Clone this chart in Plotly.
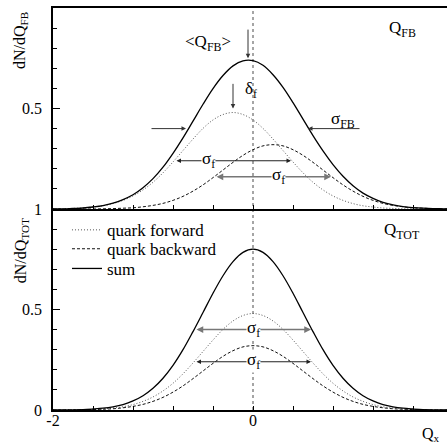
import numpy as np
import plotly.graph_objects as go

# Abscissa grid for the charge distributions
q_x = np.round(np.arange(-20, 21) / 10.0, 1)

# Q_FB panel: forward / backward quark hemispheres and their sum
fb_forward = [0.001, 0.001, 0.003, 0.005, 0.010, 0.016, 0.027, 0.043, 0.065, 0.095,
              0.133, 0.180, 0.234, 0.291, 0.348, 0.401, 0.443, 0.470, 0.480, 0.470,
              0.443, 0.401, 0.348, 0.291, 0.234, 0.180, 0.133, 0.095, 0.065, 0.043,
              0.027, 0.016, 0.010, 0.005, 0.003, 0.001, 0.001, 0.000, 0.000, 0.000, 0.000]
fb_backward = [0.000, 0.000, 0.000, 0.000, 0.000, 0.001, 0.002, 0.004, 0.006, 0.011,
               0.018, 0.028, 0.043, 0.063, 0.089, 0.120, 0.156, 0.194, 0.232, 0.267,
               0.295, 0.314, 0.320, 0.314, 0.295, 0.267, 0.232, 0.194, 0.156, 0.120,
               0.089, 0.063, 0.043, 0.028, 0.018, 0.011, 0.006, 0.004, 0.002, 0.001, 0.000]
fb_sum = [0.001, 0.001, 0.003, 0.005, 0.010, 0.017, 0.029, 0.047, 0.071, 0.106,
          0.151, 0.208, 0.277, 0.354, 0.437, 0.521, 0.599, 0.664, 0.712, 0.737,
          0.738, 0.715, 0.668, 0.605, 0.529, 0.447, 0.365, 0.289, 0.221, 0.163,
          0.116, 0.079, 0.053, 0.033, 0.021, 0.012, 0.007, 0.004, 0.002, 0.001, 0.000]

# Q_TOT panel
tot_forward = [0.000, 0.000, 0.001, 0.001, 0.003, 0.005, 0.010, 0.016, 0.027, 0.043,
               0.065, 0.095, 0.133, 0.180, 0.234, 0.291, 0.348, 0.401, 0.443, 0.470,
               0.480,
               0.470, 0.443, 0.401, 0.348, 0.291, 0.234, 0.180, 0.133, 0.095, 0.065,
               0.043, 0.027, 0.016, 0.010, 0.005, 0.003, 0.001, 0.001, 0.000, 0.000]
tot_backward = [0.000, 0.000, 0.000, 0.001, 0.002, 0.004, 0.006, 0.011, 0.018, 0.028,
                0.043, 0.063, 0.089, 0.120, 0.156, 0.194, 0.232, 0.267, 0.295, 0.314,
                0.320,
                0.314, 0.295, 0.267, 0.232, 0.194, 0.156, 0.120, 0.089, 0.063, 0.043,
                0.028, 0.018, 0.011, 0.006, 0.004, 0.002, 0.001, 0.000, 0.000, 0.000]
tot_sum = [0.000, 0.001, 0.001, 0.002, 0.005, 0.009, 0.016, 0.027, 0.045, 0.071,
           0.108, 0.158, 0.222, 0.300, 0.390, 0.485, 0.581, 0.668, 0.738, 0.784,
           0.800,
           0.784, 0.738, 0.668, 0.581, 0.485, 0.390, 0.300, 0.222, 0.158, 0.108,
           0.071, 0.045, 0.027, 0.016, 0.009, 0.005, 0.002, 0.001, 0.001, 0.000]

series_names = ["quark forward", "quark backward", "sum"]
x_tickvals = [-2, 0, 2]
x_ticktext = ["-2", "0", "2"]

FONT = "Liberation Serif, Times New Roman, serif"
LBL = 17   # annotation / legend text size
TCK = 16   # tick label and axis title size

styles = [dict(color="#555555", width=1, dash="1px,2px"),
          dict(color="#111111", width=1, dash="3px,2px"),
          dict(color="#000000", width=1.3, dash="solid")]

fig = go.Figure()
for name, ys, st in zip(series_names, [fb_forward, fb_backward, fb_sum], styles):
    fig.add_trace(go.Scatter(x=q_x, y=ys, mode="lines", line=dict(shape="spline", **st),
                             name=name, showlegend=False, xaxis="x2", yaxis="y2",
                             hoverinfo="skip"))
legend_ids = ["legend", "legend2", "legend3"]
for name, ys, st, lg in zip(series_names, [tot_forward, tot_backward, tot_sum], styles,
                            legend_ids):
    fig.add_trace(go.Scatter(x=q_x, y=ys, mode="lines", line=dict(shape="spline", **st),
                             name=name, showlegend=True, legend=lg, xaxis="x", yaxis="y",
                             hoverinfo="skip"))

axis_common = dict(showgrid=False, zeroline=False, showline=True, linecolor="black",
                   linewidth=1.5, ticks="inside", tickcolor="black",
                   tickfont=dict(family=FONT, size=TCK, color="black"))
xaxis_common = dict(axis_common, range=[-2, 1.94], tickmode="array", tickvals=x_tickvals,
                    ticktext=x_ticktext, ticklen=4, ticklabelstandoff=-5,
                    minor=dict(tickmode="linear", tick0=-2, dtick=0.4, ticks="inside",
                               ticklen=4, tickcolor="black"))
yaxis_common = dict(axis_common, range=[0, 1], ticklen=7, ticklabelstandoff=6,
                    minor=dict(tickmode="linear", tick0=0, dtick=0.1, ticks="inside",
                               ticklen=4, tickcolor="black"))

legend_rows = [0.447, 0.400, 0.351]
legend_common = dict(x=0.0355, xanchor="left", yanchor="middle", bgcolor="rgba(0,0,0,0)",
                     font=dict(family=FONT, size=LBL, color="black"), borderwidth=0)

fig.update_layout(
    width=447, height=447,
    margin=dict(l=53, r=0, t=5, b=37),
    paper_bgcolor="white", plot_bgcolor="white",
    font=dict(family=FONT, size=LBL, color="black"),
    xaxis=dict(xaxis_common, anchor="y", domain=[0, 1]),
    xaxis2=dict(xaxis_common, anchor="y2", domain=[0, 1], showticklabels=False,
                mirror=True, matches="x"),
    yaxis=dict(yaxis_common, anchor="x", domain=[0, 0.5], tickmode="array",
               tickvals=[0, 0.5, 1], ticktext=["0", "0.5", "1"]),
    yaxis2=dict(yaxis_common, anchor="x2", domain=[0.5, 1], tickmode="array",
                tickvals=[0, 0.5, 1], ticktext=["", "0.5", "1"]),
    legend=dict(legend_common, y=legend_rows[0]),
    legend2=dict(legend_common, y=legend_rows[1]),
    legend3=dict(legend_common, y=legend_rows[2]),
    showlegend=True,
)

# vertical reference line at Q = 0 through both panels
fig.add_shape(type="line", xref="x", yref="paper", x0=0, x1=0, y0=0, y1=1,
              line=dict(color="#888888", width=1.5, dash="dot"), layer="below")

ann = []
arrow_kw = dict(showarrow=True, arrowhead=2, arrowsize=0.9, arrowwidth=1,
                arrowcolor="#333333", text="")


def arrow(xr, yr, x, y, ax, ay, **kw):
    d = dict(arrow_kw, xref=xr, yref=yr, axref=xr, ayref=yr, x=x, y=y, ax=ax, ay=ay)
    d.update(kw)
    ann.append(d)


def label(xr, yr, x, y, text, xanchor="center", bg=None, size=LBL, angle=0):
    d = dict(xref=xr, yref=yr, x=x, y=y, text=text, showarrow=False, xanchor=xanchor,
             yanchor="middle", textangle=angle,
             font=dict(family=FONT, size=size, color="black"))
    if bg:
        d["bgcolor"] = bg
        d["borderpad"] = 0
    ann.append(d)


# Q_FB panel annotations
arrow("x2", "y2", -0.05, 0.75, -0.05, 0.90)           # <Q_FB>
label("x2", "y2", -0.45, 0.825, "&lt;Q<sub>FB</sub>&gt;")
arrow("x2", "y2", -0.20, 0.50, -0.20, 0.63)           # delta_f
label("x2", "y2", -0.10, 0.59, "δ<sub>f</sub>", xanchor="left")
arrow("x2", "y2", -0.67, 0.40, -1.03, 0.40)           # sigma_FB, left side
arrow("x2", "y2", 0.55, 0.40, 1.08, 0.40)             # sigma_FB, right side
label("x2", "y2", 0.90, 0.445, "σ<sub>FB</sub>")
arrow("x2", "y2", 0.38, 0.24, -0.78, 0.24, arrowside="end+start", arrowcolor="#222222")
label("x2", "y2", -0.45, 0.245, "σ<sub>f</sub>", bg="white")
arrow("x2", "y2", 0.78, 0.16, -0.38, 0.16, arrowside="end+start", arrowcolor="#777777",
      arrowwidth=1.5)
label("x2", "y2", 0.25, 0.165, "σ<sub>f</sub>", bg="white")
label("x2", "y2", 1.49, 0.895, "Q<sub>FB</sub>")

# Q_TOT panel annotations
arrow("x", "y", 0.58, 0.40, -0.58, 0.40, arrowside="end+start", arrowcolor="#777777",
      arrowwidth=1.5)
label("x", "y", 0.0, 0.405, "σ<sub>f</sub>", bg="white")
arrow("x", "y", 0.58, 0.24, -0.58, 0.24, arrowside="end+start", arrowcolor="#222222")
label("x", "y", 0.0, 0.245, "σ<sub>f</sub>", bg="white")
label("x", "y", 1.49, 0.89, "Q<sub>TOT</sub>")

# axis titles
label("paper", "paper", (1.78 + 2) / 3.94, -0.06, "Q<sub>x</sub>", size=TCK)
label("paper", "paper", -0.081, 0.918, "dN/dQ<sub>FB</sub>", size=TCK, angle=-90)
label("paper", "paper", -0.081, 0.395, "dN/dQ<sub>TOT</sub>", size=TCK, angle=-90)

fig.update_layout(annotations=ann)
fig.write_html("out.html")
